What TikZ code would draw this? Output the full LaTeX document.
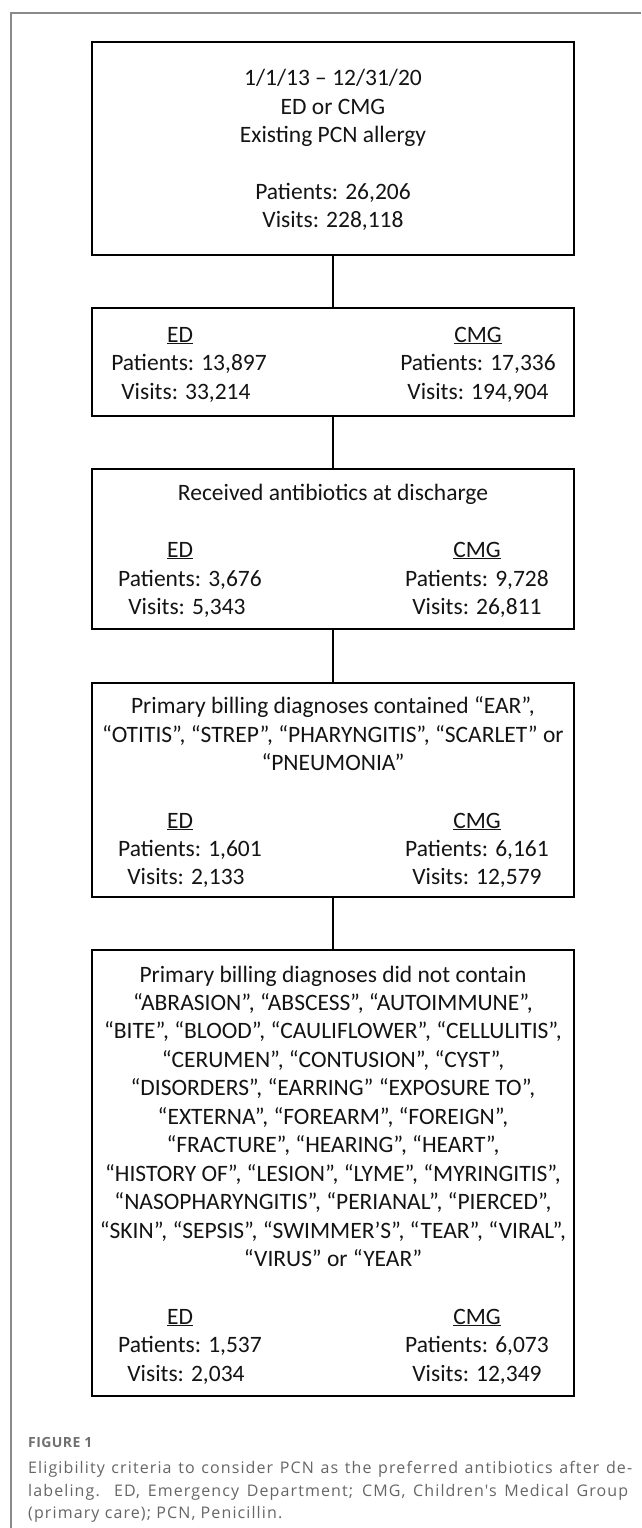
\documentclass[tikz,border=0pt]{standalone}
\usepackage{fontspec}
\setmainfont{Carlito}
\newfontfamily\capfont[LetterSpace=7]{Open Sans}
\newfontfamily\figfont[LetterSpace=3]{Open Sans}
\definecolor{framegray}{HTML}{8A8A8A}
\definecolor{capgray}{HTML}{666666}
\definecolor{figgray}{HTML}{707070}
\begin{document}
\begin{tikzpicture}[x=1pt,y=-1pt,
  box/.style={draw=black, line width=1.4pt, minimum width=482pt, inner sep=0pt},
  txt/.style={anchor=base, inner sep=0pt, font=\fontsize{23.5}{28.5}\selectfont, text=black!92},
  link/.style={draw=black, line width=1.4pt},
  captxt/.style={anchor=base west, inner sep=0pt, font=\capfont\fontsize{16}{22}\selectfont, text=capgray}]
\useasboundingbox (0,0) rectangle (641,1528);
\fill[white] (0,0) rectangle (641,1528);
% outer frame
\draw[framegray, line width=1.5pt] (641,13) -- (11,13) -- (11,1528);

% boxes
\node[box, minimum height=213pt] (b1) at (333,148.5) {};
\node[box, minimum height=108pt] (b2) at (333,362) {};
\node[box, minimum height=160pt] (b3) at (333,549) {};
\node[box, minimum height=214pt] (b4) at (333,790) {};
\node[box, minimum height=446pt] (b5) at (333,1173) {};

% connectors
\draw[link] (b1.south) -- (b2.north);
\draw[link] (b2.south) -- (b3.north);
\draw[link] (b3.south) -- (b4.north);
\draw[link] (b4.south) -- (b5.north);

% box 1
\node[txt] (t1a) at (333,85) {1/1/13 – 12/31/20};
\node[txt] (t1b) at (333,114) {ED or CMG};
\node[txt] (t1c) at (333,142) {Existing PCN allergy};
\node[txt] (t1d) at (333,199) {Patients: 26,206};
\node[txt] (t1e) at (333,227) {Visits: 228,118};

% box 2
\node[txt] (e2a) at (180,342) {\underline{ED}};
\node[txt] (e2b) at (189,370) {Patients: 13,897};
\node[txt] (e2c) at (186,399) {Visits: 33,214};
\node[txt] (m2a) at (478,342) {\underline{CMG}};
\node[txt] (m2b) at (478,370) {Patients: 17,336};
\node[txt] (m2c) at (478,399) {Visits: 194,904};

% box 3
\node[txt] (t3a) at (333,500) {Received antibiotics at discharge};
\node[txt] (e3a) at (180,557) {\underline{ED}};
\node[txt] (e3b) at (190,586) {Patients: 3,676};
\node[txt] (e3c) at (187,614) {Visits: 5,343};
\node[txt] (m3a) at (477,557) {\underline{CMG}};
\node[txt] (m3b) at (477,586) {Patients: 9,728};
\node[txt] (m3c) at (477,614) {Visits: 26,811};

% box 4
\node[txt] (t4a) at (333,713) {Primary billing diagnoses contained “EAR”,};
\node[txt] (t4b) at (333,742) {“OTITIS”, “STREP”, “PHARYNGITIS”, “SCARLET” or};
\node[txt] (t4c) at (333,770) {“PNEUMONIA”};
\node[txt] (e4a) at (180,828) {\underline{ED}};
\node[txt] (e4b) at (190,856) {Patients: 1,601};
\node[txt] (e4c) at (186,884) {Visits: 2,133};
\node[txt] (m4a) at (477,828) {\underline{CMG}};
\node[txt] (m4b) at (477,856) {Patients: 6,161};
\node[txt] (m4c) at (477,884) {Visits: 12,579};

% box 5
\foreach \t [count=\i from 0] in {
  {Primary billing diagnoses did not contain},
  {“ABRASION”, “ABSCESS”, “AUTOIMMUNE”,},
  {“BITE”, “BLOOD”, “CAULIFLOWER”, “CELLULITIS”,},
  {“CERUMEN”, “CONTUSION”, “CYST”,},
  {“DISORDERS”, “EARRING” “EXPOSURE TO”,},
  {“EXTERNA”, “FOREARM”, “FOREIGN”,},
  {“FRACTURE”, “HEARING”, “HEART”,},
  {“HISTORY OF”, “LESION”, “LYME”, “MYRINGITIS”,},
  {“NASOPHARYNGITIS”, “PERIANAL”, “PIERCED”,},
  {“SKIN”, “SEPSIS”, “SWIMMER’S”, “TEAR”, “VIRAL”,},
  {“VIRUS” or “YEAR”}}
  {\node[txt] (c\i) at (333,{982+28.45*\i}) {\t};}
\node[txt] (e5a) at (180,1324) {\underline{ED}};
\node[txt] (e5b) at (190,1352.5) {Patients: 1,537};
\node[txt] (e5c) at (186,1381) {Visits: 2,034};
\node[txt] (m5a) at (477,1324) {\underline{CMG}};
\node[txt] (m5b) at (477,1352.5) {Patients: 6,073};
\node[txt] (m5c) at (477,1381) {Visits: 12,349};

% caption
\node[anchor=base west, inner sep=0pt, font=\figfont\bfseries\fontsize{14}{16}\selectfont, text=figgray] (fig) at (28,1447) {FIGURE 1};
\node[captxt] (cap1) at (28,1473) {\makebox[604pt][s]{Eligibility criteria to consider PCN as the preferred antibiotics after de-}};
\node[captxt] (cap2) at (28,1496) {\makebox[600pt][s]{labeling. ED, Emergency Department; CMG, Children's Medical Group}};
\node[captxt] (cap3) at (28,1518) {(primary care); PCN, Penicillin.};
\end{tikzpicture}
\end{document}
